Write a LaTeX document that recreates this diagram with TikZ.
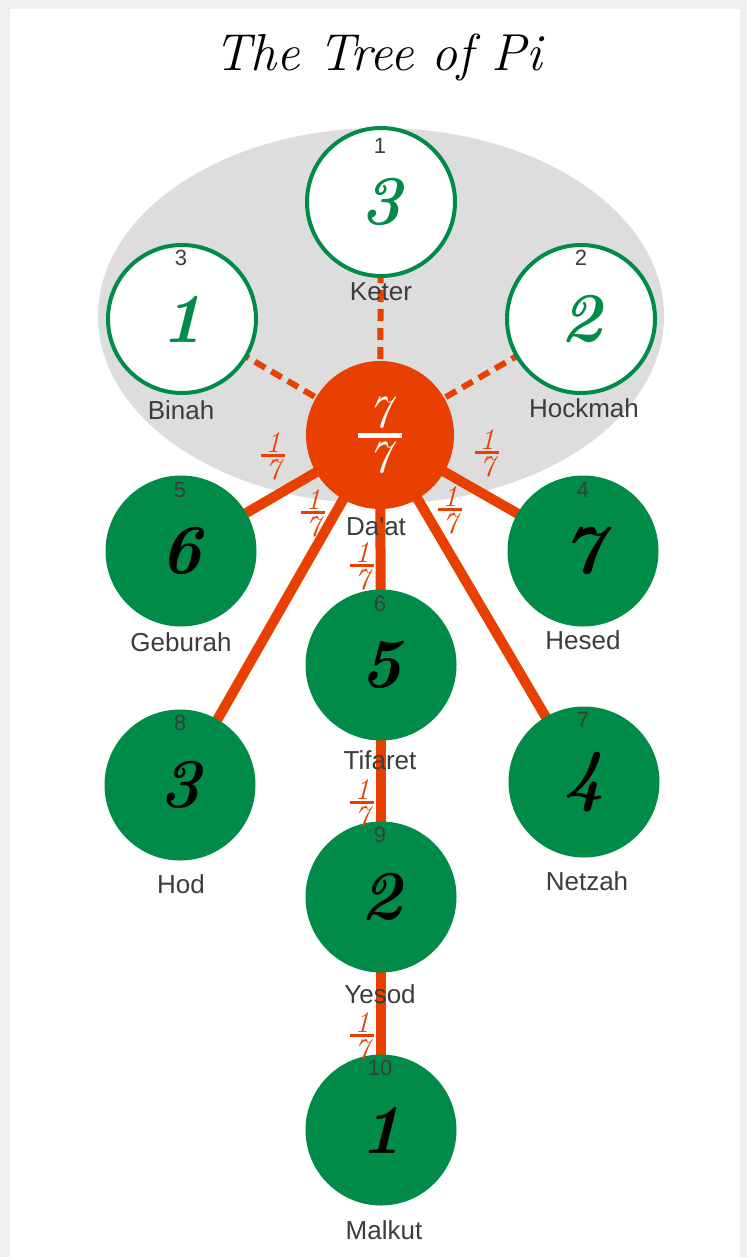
\documentclass[tikz,border=0pt]{standalone}
\usepackage{fontspec}
\newfontfamily\lab{Liberation Sans}
\usetikzlibrary{calc}
\definecolor{sgreen}{RGB}{0,140,72}
\definecolor{sorange}{RGB}{232,64,0}
\definecolor{sgray}{RGB}{221,221,221}
\definecolor{labgray}{RGB}{60,60,60}
\definecolor{pagegray}{RGB}{240,240,240}
\pgfdeclarelayer{bg}
\pgfdeclarelayer{edges}
\pgfsetlayers{bg,edges,main}
\newcommand\fracsev[5]{\vbox{\hbox to #3{\hss\itshape #1\hss}\kern#5\hrule height #4\kern#5\hbox to #3{\hss\itshape #2\hss}}}
\begin{document}
\begin{tikzpicture}[x=1pt,y=-1pt,
  sef/.style={circle,inner sep=0pt},
  open/.style={sef,minimum size=148pt,draw=sgreen,line width=4pt,fill=white,text=sgreen},
  full/.style={sef,minimum size=151pt,fill=sgreen,text=black},
  digit/.style={font=\fontsize{70}{70}\selectfont\bfseries\itshape},
  num/.style={font=\lab\fontsize{22}{22}\selectfont,text=labgray,inner sep=0pt},
  nm/.style={font=\lab\fontsize{26}{26}\selectfont,text=labgray,inner sep=0pt},
  solidedge/.style={draw=sorange,line width=10pt},
  dashedge/.style={draw=sorange,line width=6pt,dash pattern=on 12pt off 7pt},
  fr/.style={text=sorange,inner sep=0pt,font=\fontsize{30}{30}\selectfont},
  titlestyle/.style={font=\fontsize{52}{52}\selectfont\itshape,text=black,inner sep=0pt}]
\useasboundingbox (0,0) rectangle (747,1257);
\begin{pgfonlayer}{bg}
  \fill[pagegray] (0,0) rectangle (747,1257);
  \fill[white] (10,9) rectangle (740,1257);
  \fill[sgray] (381,316) ellipse [x radius=283, y radius=188];
\end{pgfonlayer}

\node[titlestyle] (title) at (378,58) {The Tree of Pi};

% circles
\node[open,digit] (keter) at (381,202) {3};
\node[open,digit] (binah) at (182,319) {1};
\node[open,digit] (hockmah) at (581,319) {2};
\node[sef,minimum size=148pt,fill=sorange,text=white] (daat) at (380,435)
  {\fontsize{46}{46}\selectfont\fracsev{7}{7}{44pt}{5pt}{4pt}};
\node[full,digit] (geburah) at (181,551) {6};
\node[full,digit] (hesed) at (583,551) {7};
\node[full,digit] (tifaret) at (381,665) {5};
\node[full,digit] (hod) at (180,785) {3};
\node[full,digit] (netzah) at (584,782) {4};
\node[full,digit] (yesod) at (381,897) {2};
\node[full,digit] (malkut) at (381,1130) {1};

% numbers
\node[num] (n1) at (380,146) {1};
\node[num] (n3) at (181,258) {3};
\node[num] (n2) at (581,258) {2};
\node[num] (n5) at (180,490) {5};
\node[num] (n4) at (583,490) {4};
\node[num] (n6) at (380,604) {6};
\node[num] (n8) at (180,723) {8};
\node[num] (n7) at (583,720) {7};
\node[num] (n9) at (380,835) {9};
\node[num] (n10) at (380,1068) {10};

% names
\node[nm] (lketer) at (381,292) {Keter};
\node[nm] (lbinah) at (181,410) {Binah};
\node[nm] (lhockmah) at (584,408) {Hockmah};
\node[nm] (ldaat) at (376,527) {Da'at};
\node[nm] (lgeburah) at (181,642) {Geburah};
\node[nm] (lhesed) at (583,640) {Hesed};
\node[nm] (ltifaret) at (380,760) {Tifaret};
\node[nm] (lhod) at (181,884) {Hod};
\node[nm] (lnetzah) at (587,881) {Netzah};
\node[nm] (lyesod) at (380,994) {Yesod};
\node[nm] (lmalkut) at (384,1230) {Malkut};

% fractions
\node[fr] (f1) at (273,456) {\fracsev{1}{7}{24pt}{3pt}{2pt}};
\node[fr] (f2) at (487,453) {\fracsev{1}{7}{24pt}{3pt}{2pt}};
\node[fr] (f3) at (313,513) {\fracsev{1}{7}{24pt}{3pt}{2pt}};
\node[fr] (f4) at (450,510) {\fracsev{1}{7}{24pt}{3pt}{2pt}};
\node[fr] (f5) at (362,566) {\fracsev{1}{7}{24pt}{3pt}{2pt}};
\node[fr] (f6) at (362,803) {\fracsev{1}{7}{24pt}{3pt}{2pt}};
\node[fr] (f7) at (362,1036) {\fracsev{1}{7}{24pt}{3pt}{2pt}};

% connectors
\begin{pgfonlayer}{edges}
  \draw[dashedge] (daat.center) -- (keter.center);
  \draw[dashedge] (daat.center) -- (binah.center);
  \draw[dashedge] (daat.center) -- (hockmah.center);
  \draw[solidedge] (daat.center) -- (geburah.center);
  \draw[solidedge] (daat.center) -- (hesed.center);
  \draw[solidedge] (daat.center) -- (tifaret.center);
  \draw[solidedge] (daat.center) -- (hod.center);
  \draw[solidedge] (daat.center) -- (netzah.center);
  \draw[solidedge] (tifaret.center) -- (yesod.center);
  \draw[solidedge] (yesod.center) -- (malkut.center);
\end{pgfonlayer}
\end{tikzpicture}
\end{document}
